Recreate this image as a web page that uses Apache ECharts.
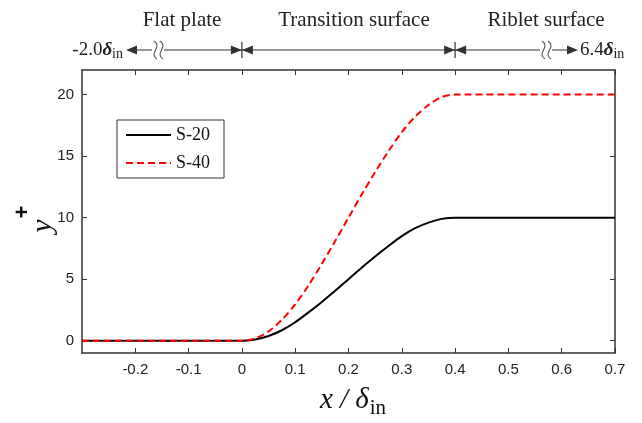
<!DOCTYPE html>
<html>
<head>
<meta charset="utf-8">
<script src="https://cdn.jsdelivr.net/npm/echarts@6/dist/echarts.min.js"></script>
<style>html,body{margin:0;padding:0;background:#fff}#c{width:642px;height:423px}</style>
</head>
<body>
<div id="c"></div>
<script>
// x positions (x / delta_in)
const xValues = [-0.3, -0.05, -0.025, 0, 0.025, 0.05, 0.075, 0.1, 0.125, 0.15, 0.175, 0.2, 0.225, 0.25, 0.275, 0.3, 0.325, 0.35, 0.375, 0.4, 0.425, 0.45, 0.7];
// y+ for S-20
const s20 = [0, 0, 0, 0, 0.1, 0.38, 0.85, 1.5, 2.3, 3.15, 4.05, 5.0, 5.95, 6.85, 7.7, 8.5, 9.15, 9.6, 9.9, 10, 10, 10, 10];
// y+ for S-40
const s40 = [0, 0, 0, 0, 0.2, 0.75, 1.7, 2.95, 4.5, 6.25, 8.1, 10.0, 11.9, 13.7, 15.4, 16.95, 18.2, 19.15, 19.8, 20, 20, 20, 20];
const xTicks = [-0.2, -0.1, 0, 0.1, 0.2, 0.3, 0.4, 0.5, 0.6, 0.7];
const yTicks = [0, 5, 10, 15, 20];
const seriesNames = ['S-20', 'S-40'];
const regionLabels = ['Flat plate', 'Transition surface', 'Riblet surface'];

const chart = echarts.init(document.getElementById('c'), null, {renderer: 'canvas'});
const axisCol = '#333';
const labelFont = {fontFamily: 'Liberation Sans, Arial, sans-serif', fontSize: 15, color: '#222'};

function xAxisDef(pos, showLabel) {
  return {
    type: 'value', position: pos, min: -0.3, max: 0.7,
    axisLine: {show: true, onZero: false, lineStyle: {color: axisCol, width: 1.5}},
    axisTick: {show: true, inside: true, length: 5, customValues: xTicks, lineStyle: {color: axisCol}},
    axisLabel: {show: showLabel, customValues: xTicks, margin: 9, ...labelFont,
      formatter: v => (Math.round(v * 10) / 10).toString()},
    splitLine: {show: false}
  };
}
function yAxisDef(pos, showLabel) {
  return {
    type: 'value', position: pos, min: -1, max: 22,
    axisLine: {show: true, onZero: false, lineStyle: {color: axisCol, width: 1.5}},
    axisTick: {show: true, inside: true, length: 5, customValues: yTicks, lineStyle: {color: axisCol}},
    axisLabel: {show: showLabel, customValues: yTicks, margin: 8, ...labelFont},
    splitLine: {show: false}
  };
}

chart.setOption({
  animation: false,
  backgroundColor: '#fff',
  grid: {left: 82, right: 27, top: 70, bottom: 70},
  xAxis: [xAxisDef('bottom', true), xAxisDef('top', false)],
  yAxis: [yAxisDef('left', true), yAxisDef('right', false)],
  legend: {
    data: seriesNames, orient: 'vertical', left: 117, top: 120,
    borderColor: '#333', borderWidth: 1, padding: [6, 14, 6, 8],
    itemWidth: 45, itemHeight: 14, itemGap: 10,
    itemStyle: {opacity: 0},
    textStyle: {fontFamily: 'Liberation Serif, Times New Roman, serif', fontSize: 18, color: '#111'}
  },
  series: [
    {name: seriesNames[0], type: 'line', data: xValues.map((x, i) => [x, s20[i]]),
     symbol: 'none', smooth: 0.3,
     lineStyle: {color: '#000', width: 2}, itemStyle: {color: '#000'}},
    {name: seriesNames[1], type: 'line', data: xValues.map((x, i) => [x, s40[i]]),
     symbol: 'none', smooth: 0.3,
     lineStyle: {color: '#ff0000', width: 2, type: [7, 4]}, itemStyle: {color: '#ff0000'}}
  ]
});

const x0 = chart.convertToPixel({xAxisIndex: 0}, 0);
const x4 = chart.convertToPixel({xAxisIndex: 0}, 0.4);
const ly = 50;
const leftEnd = 126, rightEnd = 578;
const lineCol = '#333';
const serif = 'Liberation Serif, Times New Roman, serif';
function tri(tipX, dir) {
  return {type: 'polygon', shape: {points: [[tipX, ly], [tipX - dir * 11, ly - 4.5], [tipX - dir * 11, ly + 4.5]]},
    style: {fill: lineCol}};
}
function squiggle(x) {
  const els = [{type: 'rect', shape: {x: x - 4, y: ly - 2, width: 12, height: 4}, style: {fill: '#fff'}}];
  [0, 6].forEach(dx => {
    els.push({type: 'bezierCurve', shape: {x1: x + dx - 2, y1: ly - 9, x2: x + dx + 1, y2: ly + 9,
      cpx1: x + dx + 7, cpy1: ly - 3, cpx2: x + dx - 8, cpy2: ly + 3},
      style: {stroke: '#555', lineWidth: 1.1, fill: null}});
  });
  return els;
}
const deltaRich = {
  a: {fontFamily: serif, fontSize: 19, fill: '#222'},
  d: {fontFamily: serif, fontSize: 19, fontStyle: 'italic', fontWeight: 'bold', fill: '#222'},
  s: {fontFamily: serif, fontSize: 14, fill: '#222', padding: [9, 0, 0, 0]}
};
const g = [
  {type: 'line', shape: {x1: leftEnd + 5, y1: ly, x2: rightEnd - 5, y2: ly}, style: {stroke: lineCol, lineWidth: 1.2}},
  {type: 'line', shape: {x1: x0, y1: ly - 8, x2: x0, y2: ly + 8}, style: {stroke: lineCol, lineWidth: 1.2}},
  {type: 'line', shape: {x1: x4, y1: ly - 8, x2: x4, y2: ly + 8}, style: {stroke: lineCol, lineWidth: 1.2}},
  tri(leftEnd, -1), tri(x0, 1), tri(x0, -1), tri(x4, 1), tri(x4, -1), tri(rightEnd, 1),
  ...squiggle(156), ...squiggle(544),
  {type: 'text', x: 182, y: 20, style: {text: regionLabels[0], font: '21px ' + serif, fill: '#222', align: 'center', verticalAlign: 'middle'}},
  {type: 'text', x: 354, y: 20, style: {text: regionLabels[1], font: '21px ' + serif, fill: '#222', align: 'center', verticalAlign: 'middle'}},
  {type: 'text', x: 546, y: 20, style: {text: regionLabels[2], font: '21px ' + serif, fill: '#222', align: 'center', verticalAlign: 'middle'}},
  {type: 'text', x: 123, y: ly, style: {text: '{a|-2.0}{d|δ}{s|in}', align: 'right', verticalAlign: 'middle', rich: deltaRich}},
  {type: 'text', x: rightEnd + 2, y: ly, style: {text: '{a|6.4}{d|δ}{s|in}', align: 'left', verticalAlign: 'middle', rich: deltaRich}},
  // x-axis title
  {type: 'text', x: 353, y: 400, style: {text: '{a|x / δ}{s|in}', align: 'center', verticalAlign: 'middle',
    rich: {a: {fontFamily: serif, fontSize: 29, fontStyle: 'italic', fill: '#111'},
      s: {fontFamily: serif, fontSize: 21, fill: '#111', padding: [16, 0, 0, 1]}}}},
  // y-axis title
  {type: 'text', x: 43, y: 226, rotation: Math.PI / 2, style: {text: 'y', font: 'italic 30px ' + serif, fill: '#111', align: 'center', verticalAlign: 'middle'}},
  {type: 'text', x: 23, y: 212, rotation: Math.PI / 2, style: {text: '+', font: 'bold 22px Liberation Sans, Arial, sans-serif', fill: '#111', align: 'center', verticalAlign: 'middle'}}
];
chart.setOption({graphic: g});
</script>
</body>
</html>
